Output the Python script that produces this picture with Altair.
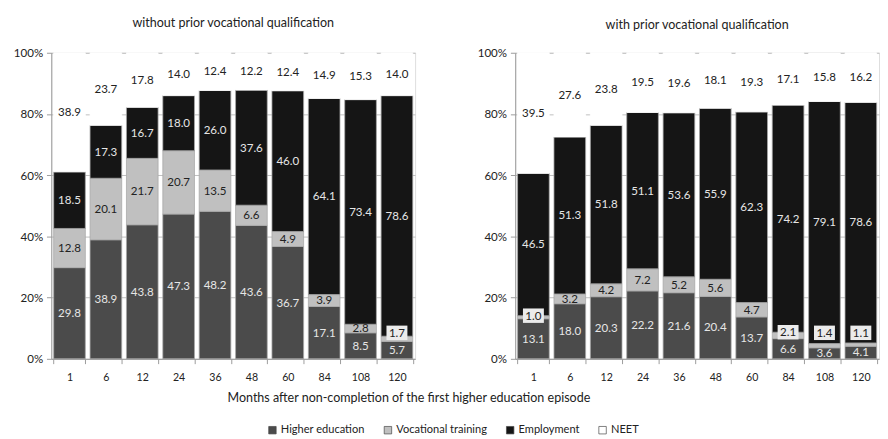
import altair as alt
import pandas as pd

months = [1, 6, 12, 24, 36, 48, 60, 84, 108, 120]
series = ["Higher education", "Vocational training", "Employment", "NEET"]
colors = ["#4b4b4b", "#c0c0c0", "#151515", "#ffffff"]

# without prior vocational qualification
wo_he = [29.8, 38.9, 43.8, 47.3, 48.2, 43.6, 36.7, 17.1, 8.5, 5.7]
wo_voc = [12.8, 20.1, 21.7, 20.7, 13.5, 6.6, 4.9, 3.9, 2.8, 1.7]
wo_emp = [18.5, 17.3, 16.7, 18.0, 26.0, 37.6, 46.0, 64.1, 73.4, 78.6]
wo_neet = [38.9, 23.7, 17.8, 14.0, 12.4, 12.2, 12.4, 14.9, 15.3, 14.0]

# with prior vocational qualification
wi_he = [13.1, 18.0, 20.3, 22.2, 21.6, 20.4, 13.7, 6.6, 3.6, 4.1]
wi_voc = [1.0, 3.2, 4.2, 7.2, 5.2, 5.6, 4.7, 2.1, 1.4, 1.1]
wi_emp = [46.5, 51.3, 51.8, 51.1, 53.6, 55.9, 62.3, 74.2, 79.1, 78.6]
wi_neet = [39.5, 27.6, 23.8, 19.5, 19.6, 18.1, 19.3, 17.1, 15.8, 16.2]

FONT = "Lato"


def long_df(he, voc, emp, neet):
    rows = []
    for i, m in enumerate(months):
        for k, (s, vals) in enumerate(zip(series, [he, voc, emp, neet])):
            rows.append({"month": str(m), "series": s, "order": k, "value": vals[i]})
    return pd.DataFrame(rows)


def panel(df, title, title_offset, left, show_legend):
    x_axis = alt.Axis(
        labelAngle=0, tickBand="extent", domainColor="#999", tickColor="#999",
        tickSize=5, labelFontSize=11, labelColor="#222", labelPadding=9, labelFont=FONT,
        grid=False,
        title="Months after non-completion of the first higher education episode" if left else None,
        titleFontSize=13, titleFontWeight="normal", titleColor="#222", titleFont=FONT,
        titlePadding=9, titleX=371,
    )
    y_axis = alt.Axis(
        values=[0, 20, 40, 60, 80, 100], labelExpr="datum.value + '%'", title=None,
        grid=True, gridColor="#bdbdbd", domainColor="#999", tickColor="#999", tickSize=5,
        labelFontSize=12, labelColor="#222", labelPadding=4, labelFont=FONT,
    )
    xenc = alt.X("month:N", sort=[str(m) for m in months],
                 scale=alt.Scale(paddingInner=0.13, paddingOuter=0.065), axis=x_axis)
    yscale = alt.Scale(domain=[0, 100])

    base = alt.Chart(df).transform_stack(
        stack="value", groupby=["month"], as_=["y0", "y1"], sort=[alt.SortField("order")]
    )

    legend = alt.Legend(
        orient="none", legendX=224, legendY=386, direction="horizontal", title=None,
        symbolType="square", symbolSize=60, symbolStrokeColor="#444", symbolStrokeWidth=0.7,
        labelFontSize=11.5, labelFont=FONT, labelColor="#222", columnPadding=18,
        labelOffset=3, padding=0,
    ) if show_legend else None

    bars = base.mark_bar(strokeWidth=0.8).encode(
        x=xenc,
        y=alt.Y("y0:Q", scale=yscale, axis=y_axis),
        y2="y1:Q",
        color=alt.Color("series:N", scale=alt.Scale(domain=series, range=colors), legend=legend),
        stroke=alt.condition("datum.series == 'NEET'", alt.value("#ffffff"), alt.value("#a8a8a8")),
    )

    labels = base.transform_filter(
        "!(datum.series == 'Vocational training' && datum.value < 2.5)"
    ).transform_calculate(
        mid="(datum.y0 + datum.y1) / 2",
        tc="(datum.series == 'Vocational training' || datum.series == 'NEET') ? '#222222' : '#e6e6e6'",
    ).mark_text(fontSize=12, font=FONT).encode(
        x=alt.X("month:N", sort=[str(m) for m in months]),
        y=alt.Y("mid:Q", scale=yscale),
        text=alt.Text("value:Q", format=".1f"),
        color=alt.Color("tc:N", scale=None),
    )

    small = base.transform_filter(
        "datum.series == 'Vocational training' && datum.value < 2.5"
    ).transform_calculate(ly="max(datum.y1, 8.5)")

    boxes = small.mark_point(
        shape="M-1.45,-1L1.45,-1L1.45,1L-1.45,1Z", size=225, filled=True,
        fill="#ebebeb", opacity=1, strokeWidth=0,
    ).encode(
        x=alt.X("month:N", sort=[str(m) for m in months]),
        y=alt.Y("ly:Q", scale=yscale),
    )
    small_text = small.mark_text(fontSize=12, font=FONT, color="#222").encode(
        x=alt.X("month:N", sort=[str(m) for m in months]),
        y=alt.Y("ly:Q", scale=yscale),
        text=alt.Text("value:Q", format=".1f"),
    )

    return alt.layer(bars, labels, boxes, small_text).properties(
        width=378, height=318,
        title=alt.TitleParams(title, fontSize=13, font=FONT, fontWeight="normal",
                              color="#222", offset=title_offset, anchor="middle"),
    )


left = panel(long_df(wo_he, wo_voc, wo_emp, wo_neet),
             "without prior vocational qualification", 18, True, True)
right = panel(long_df(wi_he, wi_voc, wi_emp, wi_neet),
              "with prior vocational qualification", 16, False, False)

chart = alt.hconcat(left, right, spacing=104, bounds="flush").resolve_scale(
    color="independent"
).properties(
    padding={"left": 5, "top": 0, "right": 0, "bottom": 0}
).configure_view(stroke=None).configure(font=FONT, background="white")

chart.save("out.html", embed_options={"renderer": "svg", "actions": False})
